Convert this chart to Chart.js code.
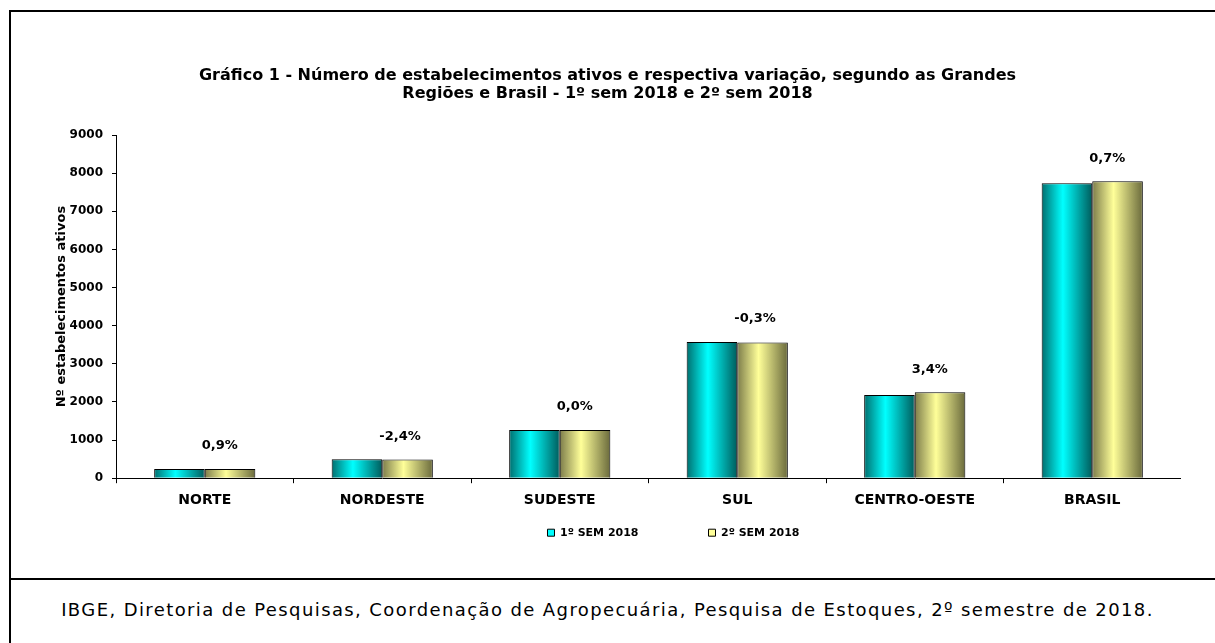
<!DOCTYPE html>
<html>
<head>
<meta charset="utf-8">
<script src="https://cdn.jsdelivr.net/npm/chart.js"></script>
<style>
  body { margin: 0; background: #fff; }
  #moldura { position: absolute; left: 9px; top: 10px; width: 1230px; height: 660px; border: 2px solid #000; }
  #linha { position: absolute; left: 9px; top: 578px; width: 1230px; height: 2px; background: #000; }
  #area { position: absolute; left: 11px; top: 14px; width: 1170px; height: 564px; }
  #fonte { position: absolute; left: 11px; width: 1193px; top: 599px; text-align: center;
           font: 18px "DejaVu Sans"; letter-spacing: 1.4px; color: #000; }
</style>
</head>
<body>
<div id="moldura"></div>
<div id="linha"></div>
<div id="area"><canvas id="grafico"></canvas></div>
<div id="fonte">IBGE, Diretoria de Pesquisas, Coordenação de Agropecuária, Pesquisa de Estoques, 2º semestre de 2018.</div>
<script>
// dados
const regioes = ['NORTE', 'NORDESTE', 'SUDESTE', 'SUL', 'CENTRO-OESTE', 'BRASIL'];
const sem1 = [238, 500, 1265, 3570, 2182, 7735];
const sem2 = [240, 488, 1265, 3559, 2256, 7789];
const variacao = ['0,9%', '-2,4%', '0,0%', '-0,3%', '3,4%', '0,7%'];
const legendas = ['1º SEM 2018', '2º SEM 2018'];
const ticksY = [0, 1000, 2000, 3000, 4000, 5000, 6000, 7000, 8000, 9000];

const CAT_PCT = 0.57;

// cores do degradê (borda escura, centro claro, borda escura)
const coresCiano = ['#006e6e', '#00ffff', '#005c5c'];
const coresAmarelo = ['#7c7c4a', '#ffff99', '#6a6a3c'];

// degradê horizontal calculado a partir da escala x
function degrade(ctx, cores) {
    const chart = ctx.chart;
    const x = chart.scales.x;
    if (ctx.type !== 'data' || !x || !x.width) return cores[1];
    const larg = (x.width / regioes.length) * CAT_PCT / 2;
    const centro = x.getPixelForValue(ctx.dataIndex);
    const ini = centro - larg + ctx.datasetIndex * larg;
    const g = chart.ctx.createLinearGradient(ini, 0, ini + larg, 0);
    g.addColorStop(0, cores[0]);
    g.addColorStop(0.42, cores[1]);
    g.addColorStop(1, cores[2]);
    return g;
}

// rótulos de variação acima de cada par de barras
const rotulos = {
    id: 'rotulos',
    afterDatasetsDraw(chart) {
        const c = chart.ctx;
        const m0 = chart.getDatasetMeta(0).data;
        const m1 = chart.getDatasetMeta(1).data;
        c.save();
        c.font = 'bold 13px "DejaVu Sans"';
        c.fillStyle = '#000';
        c.textAlign = 'left';
        c.textBaseline = 'middle';
        variacao.forEach((t, i) => {
            const topo = Math.min(m0[i].y, m1[i].y);
            const cx = chart.scales.x.getPixelForValue(i);
            c.fillText(t, cx - 3, topo - 23);
        });
        c.restore();
    }
};

// a legenda original fica deslocada para a direita e mais perto do eixo
const moveLegenda = {
    id: 'moveLegenda',
    afterLayout(chart) {
        const l = chart.legend;
        const dx = 66;
        const h = l.height;
        l.left += dx;
        l.right += dx;
        l.top = chart.chartArea.bottom - 21;
        l.bottom = l.top + h;
    }
};

Chart.defaults.font.family = '"DejaVu Sans"';
Chart.defaults.color = '#000';

new Chart(document.getElementById('grafico').getContext('2d'), {
    type: 'bar',
    data: {
        labels: regioes,
        datasets: [{
            label: legendas[0],
            data: sem1,
            backgroundColor: ctx => degrade(ctx, coresCiano),
            borderColor: '#000',
            borderWidth: 1,
            categoryPercentage: CAT_PCT,
            barPercentage: 1
        }, {
            label: legendas[1],
            data: sem2,
            backgroundColor: ctx => degrade(ctx, coresAmarelo),
            borderColor: '#000',
            borderWidth: 1,
            categoryPercentage: CAT_PCT,
            barPercentage: 1
        }]
    },
    options: {
        responsive: true,
        maintainAspectRatio: false,
        animation: false,
        layout: { padding: { left: 23, right: 0, top: 0, bottom: -31 } },
        plugins: {
            title: {
                display: true,
                text: ['Gráfico 1 - Número de estabelecimentos ativos e respectiva variação, segundo as Grandes',
                       'Regiões e Brasil - 1º sem 2018 e 2º sem 2018'],
                font: { size: 16, weight: 'bold', lineHeight: 1.125 },
                padding: { top: 53, bottom: 32 }
            },
            legend: {
                position: 'bottom',
                labels: {
                    boxWidth: 7,
                    boxHeight: 7,
                    padding: 70,
                    font: { size: 11, weight: 'bold' },
                    generateLabels: chart => {
                        const itens = Chart.defaults.plugins.legend.labels.generateLabels(chart);
                        itens[0].fillStyle = coresCiano[1];
                        itens[1].fillStyle = coresAmarelo[1];
                        itens.forEach(it => { it.strokeStyle = '#000'; it.lineWidth = 1; });
                        return itens;
                    }
                }
            },
            tooltip: { enabled: false }
        },
        scales: {
            x: {
                grid: { drawOnChartArea: false, drawTicks: true, tickLength: 5, color: '#000' },
                border: { color: '#000', width: 1 },
                ticks: { font: { size: 14, weight: 'bold' }, padding: 9 }
            },
            y: {
                min: ticksY[0],
                max: ticksY[ticksY.length - 1],
                afterFit: s => { s.width = 82; },
                afterBuildTicks: s => { s.ticks = ticksY.map(v => ({ value: v })); },
                grid: { drawOnChartArea: false, drawTicks: true, tickLength: 4, color: '#000' },
                border: { color: '#000', width: 1 },
                ticks: {
                    font: { size: 12, weight: 'bold' },
                    padding: 9,
                    callback: v => String(v)
                },
                title: {
                    display: true,
                    text: 'Nº estabelecimentos ativos',
                    font: { size: 13, weight: 'bold' },
                    padding: { top: 20, bottom: 0 }
                }
            }
        }
    },
    plugins: [rotulos, moveLegenda]
});
</script>
</body>
</html>
